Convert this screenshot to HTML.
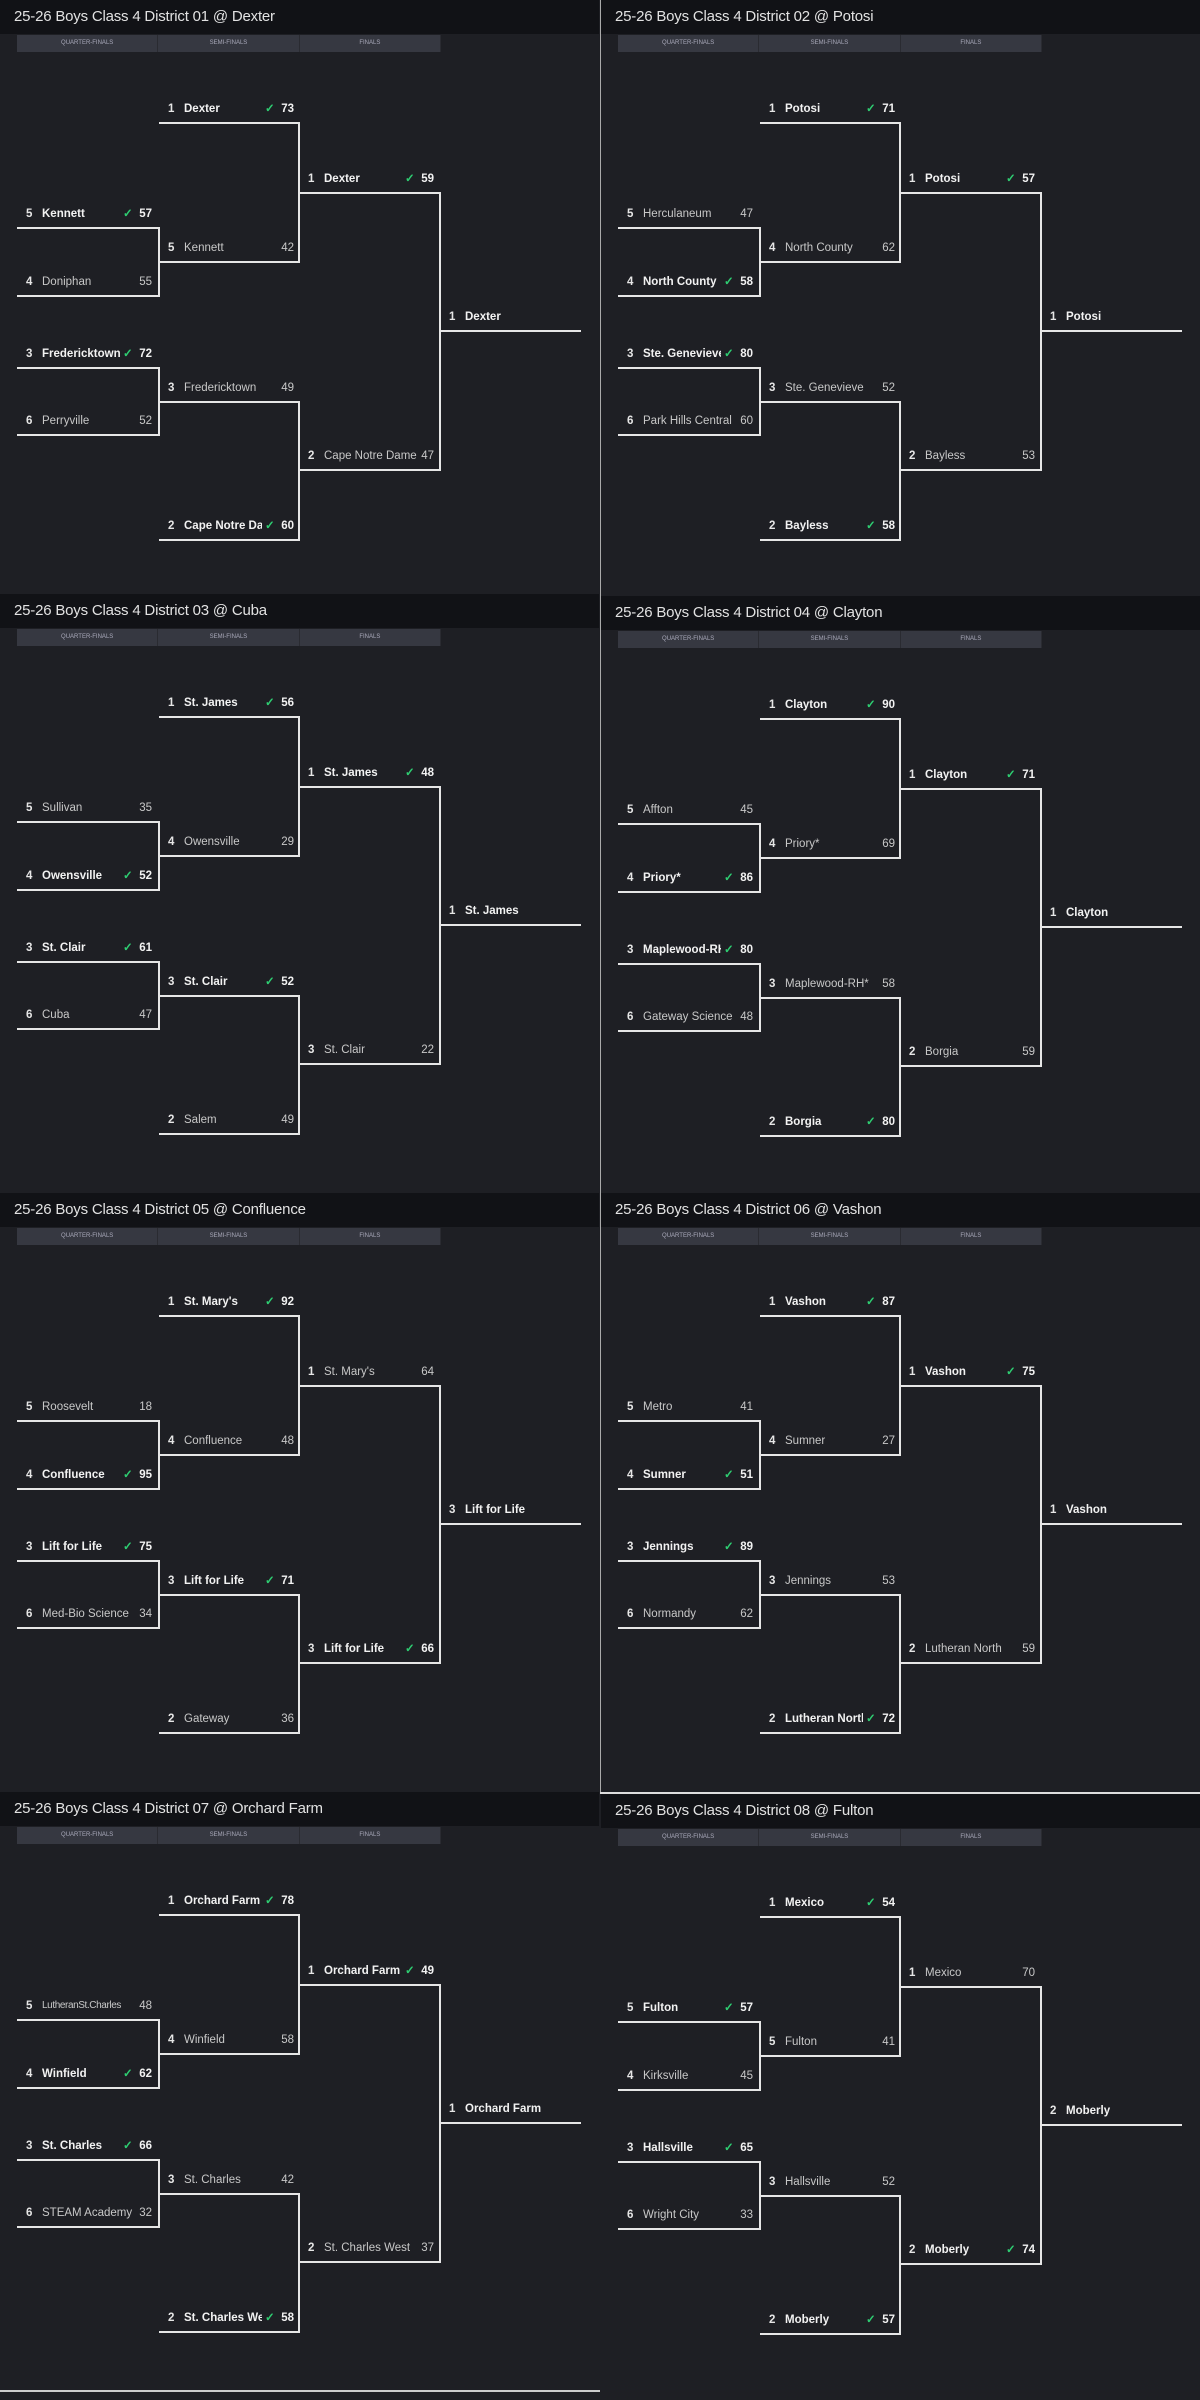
<!DOCTYPE html>
<html><head><meta charset="utf-8"><style>
*{margin:0;padding:0;box-sizing:border-box}
body{width:1200px;height:2400px;background:#1e1f24;position:relative;overflow:hidden;font-family:"Liberation Sans",sans-serif}
.p{position:absolute;width:599px;height:598px;background:#1e1f24}
.t{position:absolute;left:0;top:0;width:100%;height:34px;background:#111216;color:#e2e2e2;font-size:15px;line-height:34px;padding-left:14px;letter-spacing:-0.2px}
.hd{position:absolute;left:17px;top:35px;width:424px;height:17px;background:#363841;display:flex}
.hd div{flex:1;color:#aab;font-size:6px;line-height:17px;text-align:center;border-right:1px solid #2a2b31}
svg{position:absolute;left:0;top:0}
.r{position:absolute;width:142px;height:20px;line-height:20px;font-size:11.5px;color:#c8c8c8}
.r span{position:absolute;top:0;white-space:nowrap}
.s{left:9px;font-weight:bold;color:#e6e6e6}
.n{left:25px;width:100px;overflow:hidden}
.c{left:106px;color:#2ecc71;font-weight:bold}
.sc{right:7px}
.w{color:#f2f2f2;font-weight:bold}
.w .n{width:78px}
.ch .n{width:130px}
.sm .n{font-size:10px;letter-spacing:-0.4px}
</style></head><body>
<div style="position:absolute;left:600px;top:0;width:1px;height:1793px;background:#aaa"></div>
<div style="position:absolute;left:600px;top:1792px;width:600px;height:2px;background:#ddd"></div>
<div style="position:absolute;left:0;top:2390px;width:600px;height:2px;background:#ccc"></div>

<div class="p" style="left:0;top:0">
<div class="t">25-26 Boys Class 4 District 01 @ Dexter</div>
<div class="hd"><div>QUARTER-FINALS</div><div>SEMI-FINALS</div><div>FINALS</div></div>
<svg width="599" height="598"><path d="M17 228H159V296H17M17 368H159V435H17M159 123H299V262H159M159 402H299V540H159M299 193H440V470H299M440 331H581" fill="none" stroke="#e6e6e6" stroke-width="2"/></svg>
<div class="r w" style="left:17px;top:204px"><span class="s">5</span><span class="n">Kennett</span><span class="c">✓</span><span class="sc">57</span></div>
<div class="r" style="left:17px;top:272px"><span class="s">4</span><span class="n">Doniphan</span><span class="sc">55</span></div>
<div class="r w" style="left:17px;top:344px"><span class="s">3</span><span class="n">Fredericktown</span><span class="c">✓</span><span class="sc">72</span></div>
<div class="r" style="left:17px;top:411px"><span class="s">6</span><span class="n">Perryville</span><span class="sc">52</span></div>
<div class="r w" style="left:159px;top:99px"><span class="s">1</span><span class="n">Dexter</span><span class="c">✓</span><span class="sc">73</span></div>
<div class="r" style="left:159px;top:238px"><span class="s">5</span><span class="n">Kennett</span><span class="sc">42</span></div>
<div class="r" style="left:159px;top:378px"><span class="s">3</span><span class="n">Fredericktown</span><span class="sc">49</span></div>
<div class="r w" style="left:159px;top:516px"><span class="s">2</span><span class="n">Cape Notre Dame</span><span class="c">✓</span><span class="sc">60</span></div>
<div class="r w" style="left:299px;top:169px"><span class="s">1</span><span class="n">Dexter</span><span class="c">✓</span><span class="sc">59</span></div>
<div class="r" style="left:299px;top:446px"><span class="s">2</span><span class="n">Cape Notre Dame</span><span class="sc">47</span></div>
<div class="r w ch" style="left:440px;top:307px"><span class="s">1</span><span class="n">Dexter</span></div>
</div>

<div class="p" style="left:601px;top:0">
<div class="t">25-26 Boys Class 4 District 02 @ Potosi</div>
<div class="hd"><div>QUARTER-FINALS</div><div>SEMI-FINALS</div><div>FINALS</div></div>
<svg width="599" height="598"><path d="M17 228H159V296H17M17 368H159V435H17M159 123H299V262H159M159 402H299V540H159M299 193H440V470H299M440 331H581" fill="none" stroke="#e6e6e6" stroke-width="2"/></svg>
<div class="r" style="left:17px;top:204px"><span class="s">5</span><span class="n">Herculaneum</span><span class="sc">47</span></div>
<div class="r w" style="left:17px;top:272px"><span class="s">4</span><span class="n">North County</span><span class="c">✓</span><span class="sc">58</span></div>
<div class="r w" style="left:17px;top:344px"><span class="s">3</span><span class="n">Ste. Genevieve</span><span class="c">✓</span><span class="sc">80</span></div>
<div class="r" style="left:17px;top:411px"><span class="s">6</span><span class="n">Park Hills Central</span><span class="sc">60</span></div>
<div class="r w" style="left:159px;top:99px"><span class="s">1</span><span class="n">Potosi</span><span class="c">✓</span><span class="sc">71</span></div>
<div class="r" style="left:159px;top:238px"><span class="s">4</span><span class="n">North County</span><span class="sc">62</span></div>
<div class="r" style="left:159px;top:378px"><span class="s">3</span><span class="n">Ste. Genevieve</span><span class="sc">52</span></div>
<div class="r w" style="left:159px;top:516px"><span class="s">2</span><span class="n">Bayless</span><span class="c">✓</span><span class="sc">58</span></div>
<div class="r w" style="left:299px;top:169px"><span class="s">1</span><span class="n">Potosi</span><span class="c">✓</span><span class="sc">57</span></div>
<div class="r" style="left:299px;top:446px"><span class="s">2</span><span class="n">Bayless</span><span class="sc">53</span></div>
<div class="r w ch" style="left:440px;top:307px"><span class="s">1</span><span class="n">Potosi</span></div>
</div>

<div class="p" style="left:0;top:594px">
<div class="t">25-26 Boys Class 4 District 03 @ Cuba</div>
<div class="hd"><div>QUARTER-FINALS</div><div>SEMI-FINALS</div><div>FINALS</div></div>
<svg width="599" height="598"><path d="M17 228H159V296H17M17 368H159V435H17M159 123H299V262H159M159 402H299V540H159M299 193H440V470H299M440 331H581" fill="none" stroke="#e6e6e6" stroke-width="2"/></svg>
<div class="r" style="left:17px;top:204px"><span class="s">5</span><span class="n">Sullivan</span><span class="sc">35</span></div>
<div class="r w" style="left:17px;top:272px"><span class="s">4</span><span class="n">Owensville</span><span class="c">✓</span><span class="sc">52</span></div>
<div class="r w" style="left:17px;top:344px"><span class="s">3</span><span class="n">St. Clair</span><span class="c">✓</span><span class="sc">61</span></div>
<div class="r" style="left:17px;top:411px"><span class="s">6</span><span class="n">Cuba</span><span class="sc">47</span></div>
<div class="r w" style="left:159px;top:99px"><span class="s">1</span><span class="n">St. James</span><span class="c">✓</span><span class="sc">56</span></div>
<div class="r" style="left:159px;top:238px"><span class="s">4</span><span class="n">Owensville</span><span class="sc">29</span></div>
<div class="r w" style="left:159px;top:378px"><span class="s">3</span><span class="n">St. Clair</span><span class="c">✓</span><span class="sc">52</span></div>
<div class="r" style="left:159px;top:516px"><span class="s">2</span><span class="n">Salem</span><span class="sc">49</span></div>
<div class="r w" style="left:299px;top:169px"><span class="s">1</span><span class="n">St. James</span><span class="c">✓</span><span class="sc">48</span></div>
<div class="r" style="left:299px;top:446px"><span class="s">3</span><span class="n">St. Clair</span><span class="sc">22</span></div>
<div class="r w ch" style="left:440px;top:307px"><span class="s">1</span><span class="n">St. James</span></div>
</div>

<div class="p" style="left:601px;top:596px">
<div class="t">25-26 Boys Class 4 District 04 @ Clayton</div>
<div class="hd"><div>QUARTER-FINALS</div><div>SEMI-FINALS</div><div>FINALS</div></div>
<svg width="599" height="598"><path d="M17 228H159V296H17M17 368H159V435H17M159 123H299V262H159M159 402H299V540H159M299 193H440V470H299M440 331H581" fill="none" stroke="#e6e6e6" stroke-width="2"/></svg>
<div class="r" style="left:17px;top:204px"><span class="s">5</span><span class="n">Affton</span><span class="sc">45</span></div>
<div class="r w" style="left:17px;top:272px"><span class="s">4</span><span class="n">Priory*</span><span class="c">✓</span><span class="sc">86</span></div>
<div class="r w" style="left:17px;top:344px"><span class="s">3</span><span class="n">Maplewood-RH*</span><span class="c">✓</span><span class="sc">80</span></div>
<div class="r" style="left:17px;top:411px"><span class="s">6</span><span class="n">Gateway Science</span><span class="sc">48</span></div>
<div class="r w" style="left:159px;top:99px"><span class="s">1</span><span class="n">Clayton</span><span class="c">✓</span><span class="sc">90</span></div>
<div class="r" style="left:159px;top:238px"><span class="s">4</span><span class="n">Priory*</span><span class="sc">69</span></div>
<div class="r" style="left:159px;top:378px"><span class="s">3</span><span class="n">Maplewood-RH*</span><span class="sc">58</span></div>
<div class="r w" style="left:159px;top:516px"><span class="s">2</span><span class="n">Borgia</span><span class="c">✓</span><span class="sc">80</span></div>
<div class="r w" style="left:299px;top:169px"><span class="s">1</span><span class="n">Clayton</span><span class="c">✓</span><span class="sc">71</span></div>
<div class="r" style="left:299px;top:446px"><span class="s">2</span><span class="n">Borgia</span><span class="sc">59</span></div>
<div class="r w ch" style="left:440px;top:307px"><span class="s">1</span><span class="n">Clayton</span></div>
</div>

<div class="p" style="left:0;top:1193px">
<div class="t">25-26 Boys Class 4 District 05 @ Confluence</div>
<div class="hd"><div>QUARTER-FINALS</div><div>SEMI-FINALS</div><div>FINALS</div></div>
<svg width="599" height="598"><path d="M17 228H159V296H17M17 368H159V435H17M159 123H299V262H159M159 402H299V540H159M299 193H440V470H299M440 331H581" fill="none" stroke="#e6e6e6" stroke-width="2"/></svg>
<div class="r" style="left:17px;top:204px"><span class="s">5</span><span class="n">Roosevelt</span><span class="sc">18</span></div>
<div class="r w" style="left:17px;top:272px"><span class="s">4</span><span class="n">Confluence</span><span class="c">✓</span><span class="sc">95</span></div>
<div class="r w" style="left:17px;top:344px"><span class="s">3</span><span class="n">Lift for Life</span><span class="c">✓</span><span class="sc">75</span></div>
<div class="r" style="left:17px;top:411px"><span class="s">6</span><span class="n">Med-Bio Science</span><span class="sc">34</span></div>
<div class="r w" style="left:159px;top:99px"><span class="s">1</span><span class="n">St. Mary's</span><span class="c">✓</span><span class="sc">92</span></div>
<div class="r" style="left:159px;top:238px"><span class="s">4</span><span class="n">Confluence</span><span class="sc">48</span></div>
<div class="r w" style="left:159px;top:378px"><span class="s">3</span><span class="n">Lift for Life</span><span class="c">✓</span><span class="sc">71</span></div>
<div class="r" style="left:159px;top:516px"><span class="s">2</span><span class="n">Gateway</span><span class="sc">36</span></div>
<div class="r" style="left:299px;top:169px"><span class="s">1</span><span class="n">St. Mary's</span><span class="sc">64</span></div>
<div class="r w" style="left:299px;top:446px"><span class="s">3</span><span class="n">Lift for Life</span><span class="c">✓</span><span class="sc">66</span></div>
<div class="r w ch" style="left:440px;top:307px"><span class="s">3</span><span class="n">Lift for Life</span></div>
</div>

<div class="p" style="left:601px;top:1193px">
<div class="t">25-26 Boys Class 4 District 06 @ Vashon</div>
<div class="hd"><div>QUARTER-FINALS</div><div>SEMI-FINALS</div><div>FINALS</div></div>
<svg width="599" height="598"><path d="M17 228H159V296H17M17 368H159V435H17M159 123H299V262H159M159 402H299V540H159M299 193H440V470H299M440 331H581" fill="none" stroke="#e6e6e6" stroke-width="2"/></svg>
<div class="r" style="left:17px;top:204px"><span class="s">5</span><span class="n">Metro</span><span class="sc">41</span></div>
<div class="r w" style="left:17px;top:272px"><span class="s">4</span><span class="n">Sumner</span><span class="c">✓</span><span class="sc">51</span></div>
<div class="r w" style="left:17px;top:344px"><span class="s">3</span><span class="n">Jennings</span><span class="c">✓</span><span class="sc">89</span></div>
<div class="r" style="left:17px;top:411px"><span class="s">6</span><span class="n">Normandy</span><span class="sc">62</span></div>
<div class="r w" style="left:159px;top:99px"><span class="s">1</span><span class="n">Vashon</span><span class="c">✓</span><span class="sc">87</span></div>
<div class="r" style="left:159px;top:238px"><span class="s">4</span><span class="n">Sumner</span><span class="sc">27</span></div>
<div class="r" style="left:159px;top:378px"><span class="s">3</span><span class="n">Jennings</span><span class="sc">53</span></div>
<div class="r w" style="left:159px;top:516px"><span class="s">2</span><span class="n">Lutheran North</span><span class="c">✓</span><span class="sc">72</span></div>
<div class="r w" style="left:299px;top:169px"><span class="s">1</span><span class="n">Vashon</span><span class="c">✓</span><span class="sc">75</span></div>
<div class="r" style="left:299px;top:446px"><span class="s">2</span><span class="n">Lutheran North</span><span class="sc">59</span></div>
<div class="r w ch" style="left:440px;top:307px"><span class="s">1</span><span class="n">Vashon</span></div>
</div>

<div class="p" style="left:0;top:1792px">
<div class="t">25-26 Boys Class 4 District 07 @ Orchard Farm</div>
<div class="hd"><div>QUARTER-FINALS</div><div>SEMI-FINALS</div><div>FINALS</div></div>
<svg width="599" height="598"><path d="M17 228H159V296H17M17 368H159V435H17M159 123H299V262H159M159 402H299V540H159M299 193H440V470H299M440 331H581" fill="none" stroke="#e6e6e6" stroke-width="2"/></svg>
<div class="r sm" style="left:17px;top:204px"><span class="s">5</span><span class="n">LutheranSt.Charles</span><span class="sc">48</span></div>
<div class="r w" style="left:17px;top:272px"><span class="s">4</span><span class="n">Winfield</span><span class="c">✓</span><span class="sc">62</span></div>
<div class="r w" style="left:17px;top:344px"><span class="s">3</span><span class="n">St. Charles</span><span class="c">✓</span><span class="sc">66</span></div>
<div class="r" style="left:17px;top:411px"><span class="s">6</span><span class="n">STEAM Academy</span><span class="sc">32</span></div>
<div class="r w" style="left:159px;top:99px"><span class="s">1</span><span class="n">Orchard Farm</span><span class="c">✓</span><span class="sc">78</span></div>
<div class="r" style="left:159px;top:238px"><span class="s">4</span><span class="n">Winfield</span><span class="sc">58</span></div>
<div class="r" style="left:159px;top:378px"><span class="s">3</span><span class="n">St. Charles</span><span class="sc">42</span></div>
<div class="r w" style="left:159px;top:516px"><span class="s">2</span><span class="n">St. Charles West</span><span class="c">✓</span><span class="sc">58</span></div>
<div class="r w" style="left:299px;top:169px"><span class="s">1</span><span class="n">Orchard Farm</span><span class="c">✓</span><span class="sc">49</span></div>
<div class="r" style="left:299px;top:446px"><span class="s">2</span><span class="n">St. Charles West</span><span class="sc">37</span></div>
<div class="r w ch" style="left:440px;top:307px"><span class="s">1</span><span class="n">Orchard Farm</span></div>
</div>

<div class="p" style="left:601px;top:1794px">
<div class="t">25-26 Boys Class 4 District 08 @ Fulton</div>
<div class="hd"><div>QUARTER-FINALS</div><div>SEMI-FINALS</div><div>FINALS</div></div>
<svg width="599" height="598"><path d="M17 228H159V296H17M17 368H159V435H17M159 123H299V262H159M159 402H299V540H159M299 193H440V470H299M440 331H581" fill="none" stroke="#e6e6e6" stroke-width="2"/></svg>
<div class="r w" style="left:17px;top:204px"><span class="s">5</span><span class="n">Fulton</span><span class="c">✓</span><span class="sc">57</span></div>
<div class="r" style="left:17px;top:272px"><span class="s">4</span><span class="n">Kirksville</span><span class="sc">45</span></div>
<div class="r w" style="left:17px;top:344px"><span class="s">3</span><span class="n">Hallsville</span><span class="c">✓</span><span class="sc">65</span></div>
<div class="r" style="left:17px;top:411px"><span class="s">6</span><span class="n">Wright City</span><span class="sc">33</span></div>
<div class="r w" style="left:159px;top:99px"><span class="s">1</span><span class="n">Mexico</span><span class="c">✓</span><span class="sc">54</span></div>
<div class="r" style="left:159px;top:238px"><span class="s">5</span><span class="n">Fulton</span><span class="sc">41</span></div>
<div class="r" style="left:159px;top:378px"><span class="s">3</span><span class="n">Hallsville</span><span class="sc">52</span></div>
<div class="r w" style="left:159px;top:516px"><span class="s">2</span><span class="n">Moberly</span><span class="c">✓</span><span class="sc">57</span></div>
<div class="r" style="left:299px;top:169px"><span class="s">1</span><span class="n">Mexico</span><span class="sc">70</span></div>
<div class="r w" style="left:299px;top:446px"><span class="s">2</span><span class="n">Moberly</span><span class="c">✓</span><span class="sc">74</span></div>
<div class="r w ch" style="left:440px;top:307px"><span class="s">2</span><span class="n">Moberly</span></div>
</div>
</body></html>
